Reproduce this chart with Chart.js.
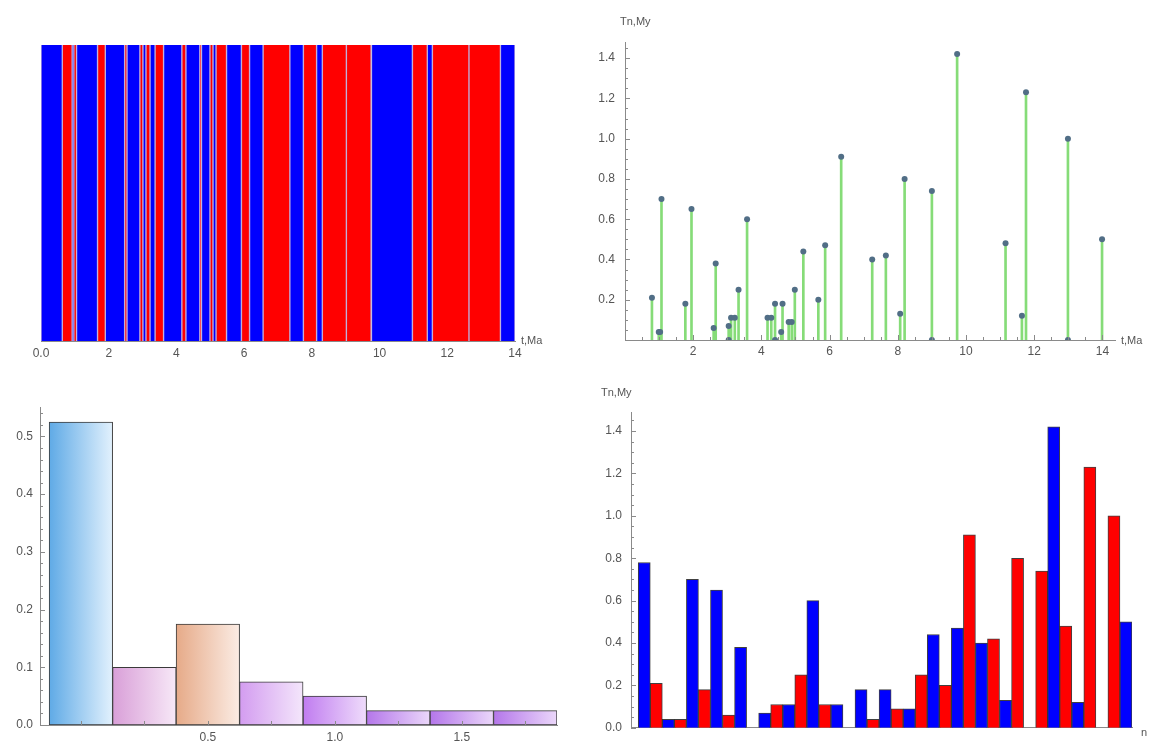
<!DOCTYPE html>
<html>
<head>
<meta charset="utf-8">
<script src="https://cdn.jsdelivr.net/npm/chart.js@4.4.1/dist/chart.umd.min.js"></script>
<style>
  body { margin: 0; background: #fff; width: 1155px; height: 744px; overflow: hidden; position: relative; }
  canvas { position: absolute; }
  .lbl { position: absolute; font: 11px 'Liberation Sans', Arial, sans-serif; color: #555; white-space: nowrap; }
</style>
</head>
<body>
<canvas id="polarity" width="578" height="372" style="left:0;top:0"></canvas>
<canvas id="stems" width="577" height="372" style="left:578px;top:0"></canvas>
<canvas id="histogram" width="578" height="372" style="left:0;top:372px"></canvas>
<canvas id="intervals" width="577" height="372" style="left:578px;top:372px"></canvas>

<div class="lbl" style="left:521px;top:334px">t,Ma</div>
<div class="lbl" style="left:620px;top:15px">Tn,My</div>
<div class="lbl" style="left:1121px;top:334px">t,Ma</div>
<div class="lbl" style="left:601px;top:386px">Tn,My</div>
<div class="lbl" style="left:1141px;top:726px">n</div>

<script>
// polarity scale (top left): N = normal (blue), R = reversed (red)
const polarityStart = [0.00, 0.63, 0.92, 0.97, 1.05, 1.67, 1.90, 2.47, 2.54, 2.92, 3.01, 3.10, 3.22, 3.37,
  3.62, 4.16, 4.28, 4.69, 4.74, 4.99, 5.08, 5.17, 5.48, 5.92, 6.16, 6.56, 7.35, 7.75, 8.14, 8.31, 9.02,
  9.76, 10.97, 11.41, 11.56, 12.64, 13.57];
const polarityEnd = [0.63, 0.92, 0.97, 1.05, 1.67, 1.90, 2.47, 2.54, 2.92, 3.01, 3.10, 3.22, 3.37, 3.62,
  4.16, 4.28, 4.69, 4.74, 4.99, 5.08, 5.17, 5.48, 5.92, 6.16, 6.56, 7.35, 7.75, 8.14, 8.31, 9.02, 9.75,
  10.97, 11.41, 11.56, 12.64, 13.57, 14.00];
const polarityType = ['N', 'R', 'N', 'R', 'N', 'R', 'N', 'R', 'N', 'R', 'N', 'R', 'N', 'R',
  'N', 'R', 'N', 'R', 'N', 'R', 'N', 'R', 'N', 'R', 'N', 'R', 'N', 'R', 'N', 'R', 'R',
  'N', 'R', 'N', 'R', 'R', 'N'];
const polarityTicks = [0, 2, 4, 6, 8, 10, 12, 14];

// stem plot (top right): interval length Tn placed at its start time t
const stemTimes = [0.79, 0.99, 1.03, 1.07, 1.77, 1.95, 2.60, 2.66, 3.04, 3.04, 3.11, 3.22, 3.33, 3.58,
  4.18, 4.29, 4.40, 4.40, 4.58, 4.62, 4.80, 4.89, 4.98, 5.23, 5.67, 5.87, 6.34, 7.25, 7.65, 8.07,
  8.20, 9.00, 9.00, 9.74, 11.16, 11.64, 11.76, 12.99, 12.99, 13.99];
const stemValues = [0.21, 0.04, 0.04, 0.70, 0.18, 0.65, 0.06, 0.38, 0, 0.07, 0.11, 0.11, 0.25, 0.60,
  0.11, 0.11, 0, 0.18, 0.04, 0.18, 0.09, 0.09, 0.25, 0.44, 0.20, 0.47, 0.91, 0.40, 0.42, 0.13,
  0.80, 0, 0.74, 1.42, 0.48, 0.12, 1.23, 0, 1.00, 0.50];
const stemXTicks = [2, 4, 6, 8, 10, 12, 14];
const stemYTicks = [0.2, 0.4, 0.6, 0.8, 1.0, 1.2, 1.4];

// histogram (bottom left)
const histCenters = [0, 0.25, 0.5, 0.75, 1.0, 1.25, 1.5, 1.75];
const histValues = [0.525, 0.10, 0.175, 0.075, 0.05, 0.025, 0.025, 0.025];
const histXTicks = [0.5, 1.0, 1.5];
const histYTicks = [0, 0.1, 0.2, 0.3, 0.4, 0.5];

// interval lengths by number n (bottom right), odd n blue, even n red
const intervalValues = [0.78, 0.21, 0.04, 0.04, 0.70, 0.18, 0.65, 0.06, 0.38, 0, 0.07, 0.11, 0.11, 0.25,
  0.60, 0.11, 0.11, 0, 0.18, 0.04, 0.18, 0.09, 0.09, 0.25, 0.44, 0.20, 0.47, 0.91, 0.40, 0.42,
  0.13, 0.80, 0, 0.74, 1.42, 0.48, 0.12, 1.23, 0, 1.00, 0.50];
const intervalN = intervalValues.map((v, i) => i + 1);
const intervalYTicks = [0, 0.2, 0.4, 0.6, 0.8, 1.0, 1.2, 1.4];

const BLUE = '#0000ff';
const RED = '#ff0000';
const histGradients = [
  ['#5faae6', '#e2f1fd'], ['#d99fd8', '#f7e8f7'], ['#e6aa88', '#fbece4'], ['#d39cf0', '#f4e6fb'],
  ['#c07cf0', '#efdcfb'], ['#b476ea', '#ebd7fa'], ['#b476ea', '#ebd7fa'], ['#b476ea', '#ebd7fa']
];

Chart.defaults.font.family = "'Liberation Sans', Arial, sans-serif";
Chart.defaults.font.size = 12;
Chart.defaults.color = '#555';

const range = (a, b, s) => Array.from({ length: Math.round((b - a) / s) + 1 }, (_, i) => +(a + i * s).toFixed(4));
const fixW = w => s => { s.width = w; };
const fixH = h => s => { s.height = h; };
const setTicks = vals => s => { s.ticks = vals.map(v => ({ value: v })); };
const noGrid = { display: false, drawTicks: false };
const axisLine = { display: true, color: '#8a8a8a', width: 1 };

// Mathematica-like tick marks (major + minor), pointing into the plot
const tickMarks = {
  id: 'tickMarks',
  afterDraw(chart, args, opts) {
    const { ctx, chartArea } = chart;
    ctx.save();
    ctx.strokeStyle = '#8a8a8a';
    ctx.lineWidth = 1;
    (opts.x || []).forEach(([vals, len]) => {
      const sc = chart.scales.x;
      vals.forEach(v => {
        if (v < sc.min || v > sc.max) return;
        const px = Math.round(sc.getPixelForValue(v)) + 0.5;
        ctx.beginPath();
        ctx.moveTo(px, chartArea.bottom);
        ctx.lineTo(px, chartArea.bottom - len);
        ctx.stroke();
      });
    });
    (opts.y || []).forEach(([vals, len]) => {
      const sc = chart.scales.y;
      vals.forEach(v => {
        if (v < sc.min || v > sc.max) return;
        const py = Math.round(sc.getPixelForValue(v)) + 0.5;
        ctx.beginPath();
        ctx.moveTo(chartArea.left, py);
        ctx.lineTo(chartArea.left + len, py);
        ctx.stroke();
      });
    });
    ctx.restore();
  }
};

const base = {
  responsive: false,
  animation: false,
  plugins: { legend: { display: false }, tooltip: { enabled: false } }
};

// Top left: polarity bands
new Chart(document.getElementById('polarity'), {
  type: 'bar',
  data: {
    labels: ['polarity'],
    datasets: polarityStart.map((s, i) => ({
      data: [[s, polarityEnd[i]]],
      backgroundColor: polarityType[i] === 'N' ? BLUE : RED,
      borderColor: 'rgba(185,165,215,0.9)',
      borderWidth: { left: 1, right: 1, top: 0, bottom: 0 },
      borderSkipped: false,
      grouped: false,
      barPercentage: 1,
      categoryPercentage: 1
    }))
  },
  options: {
    ...base,
    indexAxis: 'y',
    layout: { padding: { left: 41, top: 45, right: 63, bottom: 0 } },
    scales: {
      x: {
        type: 'linear', min: 0, max: 14,
        afterBuildTicks: setTicks(polarityTicks),
        afterFit: fixH(31),
        grid: noGrid, border: axisLine,
        ticks: { padding: 5, callback: v => v === 0 ? '0.0' : v }
      },
      y: { display: false }
    }
  }
});

// Top right: stems
const stemPoints = stemTimes.map((t, i) => ({ x: t, y: stemValues[i] }));
new Chart(document.getElementById('stems'), {
  type: 'bar',
  data: {
    datasets: [
      { type: 'scatter', data: stemPoints, pointRadius: 3, pointBackgroundColor: '#516e86', pointBorderWidth: 0, order: 0 },
      { type: 'bar', data: stemPoints, backgroundColor: '#86dc78', barThickness: 2, order: 1 }
    ]
  },
  options: {
    ...base,
    layout: { padding: { left: 0, top: 42, right: 40, bottom: 0 } },
    scales: {
      x: {
        type: 'linear', min: 0, max: 14.37, offset: false,
        afterBuildTicks: setTicks(stemXTicks),
        afterFit: fixH(32),
        grid: noGrid, border: axisLine,
        ticks: { padding: 4 }
      },
      y: {
        type: 'linear', min: 0, max: 1.48,
        afterBuildTicks: setTicks(stemYTicks),
        afterFit: fixW(47),
        grid: noGrid, border: axisLine,
        ticks: { padding: 10, callback: v => v.toFixed(1) }
      }
    },
    plugins: {
      ...base.plugins,
      tickMarks: { x: [[stemXTicks, 5], [range(0.5, 14, 0.5), 3]], y: [[stemYTicks, 5], [range(0.05, 1.45, 0.05), 3]] }
    }
  },
  plugins: [tickMarks]
});

// Bottom left: histogram with gradient bars
new Chart(document.getElementById('histogram'), {
  type: 'bar',
  data: {
    datasets: [{
      data: histCenters.map((c, i) => ({ x: c, y: histValues[i] })),
      backgroundColor: ctx => {
        const g = histGradients[ctx.dataIndex] || histGradients[0];
        const chart = ctx.chart;
        if (!chart.chartArea || !chart.scales.x) return g[0];
        const c = histCenters[ctx.dataIndex];
        const x0 = chart.scales.x.getPixelForValue(c - 0.125);
        const x1 = chart.scales.x.getPixelForValue(c + 0.125);
        const grad = chart.ctx.createLinearGradient(x0, 0, x1, 0);
        grad.addColorStop(0, g[0]);
        grad.addColorStop(1, g[1]);
        return grad;
      },
      borderColor: '#3a3a3a',
      borderWidth: 1,
      borderSkipped: false,
      barPercentage: 1,
      categoryPercentage: 1
    }]
  },
  options: {
    ...base,
    layout: { padding: { left: 0, top: 35, right: 21, bottom: 0 } },
    scales: {
      x: {
        type: 'linear', min: -0.161, max: 1.875, offset: false,
        afterBuildTicks: setTicks(histXTicks),
        afterFit: fixH(19),
        grid: noGrid, border: axisLine,
        ticks: { padding: 5, callback: v => v.toFixed(1) }
      },
      y: {
        type: 'linear', min: 0, max: 0.551,
        afterBuildTicks: setTicks(histYTicks),
        afterFit: fixW(40),
        grid: noGrid, border: axisLine,
        ticks: { padding: 7, callback: v => v.toFixed(1) }
      }
    },
    plugins: {
      ...base.plugins,
      tickMarks: { x: [[range(0, 1.75, 0.25), 4]], y: [[histYTicks, 5], [range(0.02, 0.54, 0.02), 3]] }
    }
  },
  plugins: [tickMarks]
});

// Bottom right: interval lengths by number
new Chart(document.getElementById('intervals'), {
  type: 'bar',
  data: {
    datasets: [{
      data: intervalN.map((n, i) => ({ x: n, y: intervalValues[i] })),
      backgroundColor: intervalN.map(n => n % 2 === 1 ? BLUE : RED),
      borderColor: 'rgba(30,30,30,0.85)',
      borderWidth: 1,
      barPercentage: 1,
      categoryPercentage: 1
    }]
  },
  options: {
    ...base,
    layout: { padding: { left: 0, top: 40, right: 23, bottom: 0 } },
    scales: {
      x: {
        type: 'linear', min: -0.1, max: 41.5, offset: false,
        afterFit: fixH(11),
        grid: noGrid, border: axisLine,
        ticks: { display: false }
      },
      y: {
        type: 'linear', min: 0, max: 1.49,
        afterBuildTicks: setTicks(intervalYTicks),
        afterFit: fixW(53),
        grid: noGrid, border: axisLine,
        ticks: { padding: 9, callback: v => v.toFixed(1) }
      }
    },
    plugins: {
      ...base.plugins,
      tickMarks: { y: [[intervalYTicks, 5], [range(0.05, 1.45, 0.05), 3]] }
    }
  },
  plugins: [tickMarks]
});
</script>
</body>
</html>
